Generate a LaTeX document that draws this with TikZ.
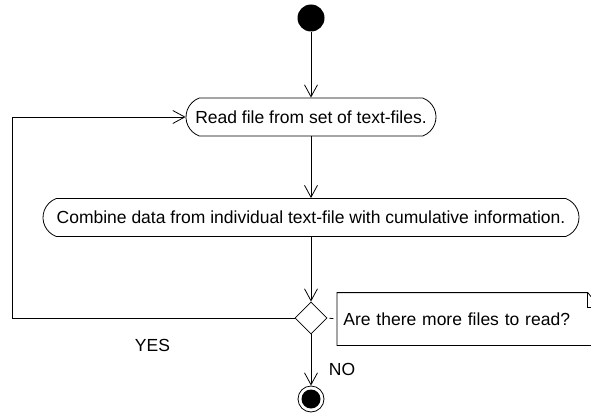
\documentclass[tikz,border=0pt]{standalone}
\usepackage{fontspec}
\setmainfont{Liberation Sans}
\usetikzlibrary{arrows.meta,shapes.geometric,shapes.misc}
\begin{document}
\begin{tikzpicture}[x=1pt,y=-1pt,line width=0.8pt,
  every node/.style={font=\fontsize{17.5}{21}\selectfont},
  action/.style={draw,rounded rectangle,rounded rectangle arc length=140,
    minimum height=38pt,inner sep=0pt},
  flow/.style={-{Straight Barb[length=12pt,width=13pt,line width=0.8pt]}},
  startdot/.style={circle,fill=black,minimum size=27pt,inner sep=0pt},
  enddot/.style={circle,draw,minimum size=26pt,inner sep=0pt},
  decision/.style={diamond,draw,minimum width=32pt,minimum height=32pt,inner sep=0pt},
  notelink/.style={dash pattern=on 4pt off 4pt,dash phase=6pt},
  plain/.style={inner sep=0pt}]
\useasboundingbox (0,0) rectangle (591,412);
\clip (0,0) rectangle (591,412);

% activity nodes
\node[startdot] (start) at (311,18) {};
\node[action,minimum width=250pt] (read) at (311,117) {Read file from set of text-files.};
\node[action,minimum width=536pt] (combine) at (311,217.5)
  {Combine data from individual text-file with cumulative information.};
\node[decision] (dec) at (311,318) {};
\node[enddot] (stop) at (311,399) {};
\fill (stop.center) circle (9.5pt);

% comment attached to the decision
\node[text width=250pt,align=left,minimum height=52pt,inner xsep=6pt,inner ysep=0pt,
  anchor=west] (note) at (337,319) {Are there more files to read?};
\draw (note.south east) -- (note.south west) -- (note.north west)
  -- ([xshift=-12pt]note.north east) -- ([yshift=-15pt]note.north east) -- (note.south east);
\draw ([xshift=-12pt]note.north east) -- ([xshift=-12pt,yshift=-15pt]note.north east)
  -- ([yshift=-15pt]note.north east);
\draw[notelink] (dec.east) -- (note.west);

% guard labels
\node[plain] (yes) at (152.5,345) {YES};
\node[plain] (no) at (342,369) {NO};

% control flow
\coordinate (loopcorner) at (12,318);
\draw[flow] (start) -- (read.north);
\draw[flow] (read.south) -- (combine.north);
\draw[flow] (combine.south) -- (dec.north);
\draw[flow] (dec.west) -- (loopcorner) |- (read.west);
\draw[flow] (dec.south) -- (stop.north);
\end{tikzpicture}
\end{document}
